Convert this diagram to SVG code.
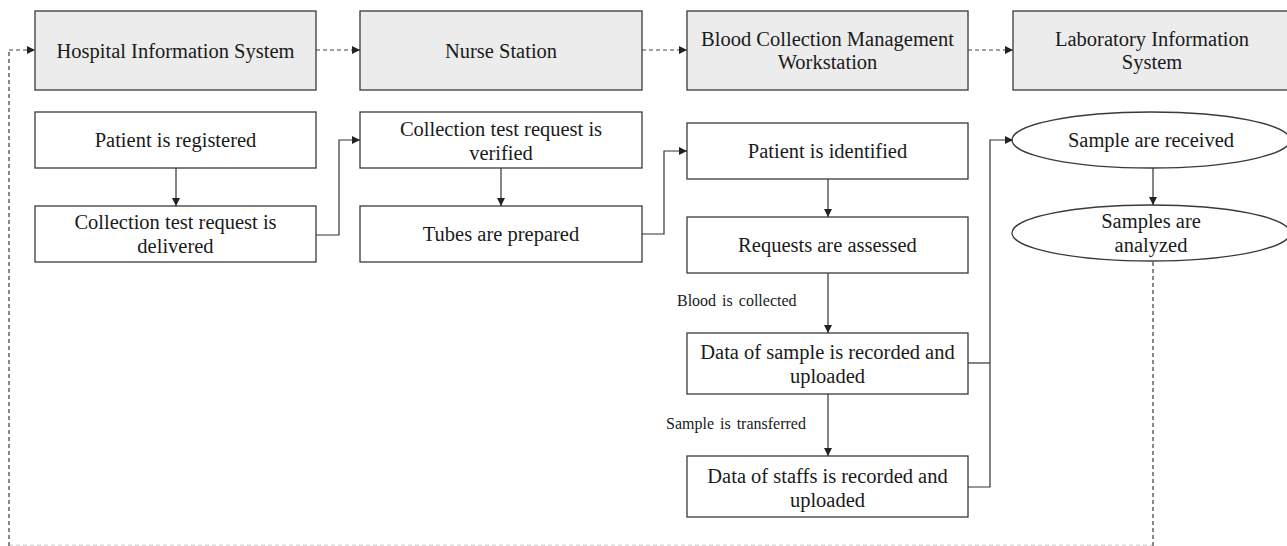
<svg xmlns="http://www.w3.org/2000/svg" width="1287" height="546" viewBox="0 0 1287 546">
<style>
.hdr{fill:#ececec;stroke:#3a3a3a;stroke-width:1.3}
.box{fill:#fff;stroke:#3a3a3a;stroke-width:1.3}
text{font-family:"Liberation Serif","Times New Roman",serif;fill:#1a1a1a;text-anchor:middle}
.t{font-size:20.5px}
.s{font-size:16px;text-anchor:start;word-spacing:2px}
.ln{fill:none;stroke:#333;stroke-width:1.2}
.dl{fill:none;stroke:#444;stroke-width:1.2;stroke-dasharray:4 3}
.fd{fill:none;stroke:#888;stroke-width:2;stroke-dasharray:4 3}
</style>
<defs>
<marker id="ah" markerWidth="8" markerHeight="8" refX="8" refY="4" orient="auto" markerUnits="userSpaceOnUse">
<path d="M0,0 L8,4 L0,8 Z" fill="#222"/>
</marker>
</defs>
<rect width="1287" height="546" fill="#fff"/>
<g id="his"><rect class="hdr" x="35" y="11" width="281" height="79"/><text class="t" x="175.5" y="58">Hospital Information System</text></g>
<g id="ns"><rect class="hdr" x="360" y="11" width="282" height="79"/><text class="t" x="501" y="58">Nurse Station</text></g>
<g id="bcmw"><rect class="hdr" x="687" y="11" width="281" height="79"/><text class="t" x="827.5" y="46">Blood Collection Management</text><text class="t" x="827.5" y="69">Workstation</text></g>
<g id="lis"><rect class="hdr" x="1013" y="11" width="290" height="79"/><text class="t" x="1152" y="46">Laboratory Information</text><text class="t" x="1152" y="69">System</text></g>
<g id="p-reg"><rect class="box" x="35" y="112" width="281" height="56"/><text class="t" x="175.5" y="147">Patient is registered</text></g>
<g id="req-del"><rect class="box" x="35" y="206" width="281" height="56"/><text class="t" x="175.5" y="229">Collection test request is</text><text class="t" x="175.5" y="253">delivered</text></g>
<g id="req-ver"><rect class="box" x="360" y="112" width="282" height="56"/><text class="t" x="501" y="136">Collection test request is</text><text class="t" x="501" y="160">verified</text></g>
<g id="tubes"><rect class="box" x="360" y="206" width="282" height="56"/><text class="t" x="501" y="241">Tubes are prepared</text></g>
<g id="p-id"><rect class="box" x="687" y="123" width="281" height="56"/><text class="t" x="827.5" y="158">Patient is identified</text></g>
<g id="req-ass"><rect class="box" x="687" y="217" width="281" height="56"/><text class="t" x="827.5" y="252">Requests are assessed</text></g>
<g id="data-sample"><rect class="box" x="687" y="333" width="281" height="61"/><text class="t" x="827.5" y="359">Data of sample is recorded and</text><text class="t" x="827.5" y="383">uploaded</text></g>
<g id="data-staff"><rect class="box" x="687" y="456" width="281" height="61"/><text class="t" x="827.5" y="483">Data of staffs is recorded and</text><text class="t" x="827.5" y="507">uploaded</text></g>
<g id="s-rec"><ellipse class="box" cx="1151" cy="140" rx="139" ry="28"/><text class="t" x="1151" y="147">Sample are received</text></g>
<g id="s-ana"><ellipse class="box" cx="1151" cy="233" rx="139" ry="28"/><text class="t" x="1151" y="228">Samples are</text><text class="t" x="1151" y="252">analyzed</text></g>
<g id="connectors">
<path class="fd" d="M9,546 V50"/>
<path class="dl" d="M9,50 H35" marker-end="url(#ah)"/>
<path class="dl" d="M316,50 H360" marker-end="url(#ah)"/>
<path class="dl" d="M642,50 H687" marker-end="url(#ah)"/>
<path class="dl" d="M968,50 H1013" marker-end="url(#ah)"/>
<path class="fd" d="M1153,262 V546"/>
<path class="fd" d="M9,545.5 H1153" stroke-opacity="0.3"/>
<path class="ln" d="M176,168 V206" marker-end="url(#ah)"/>
<path class="ln" d="M316,235 H339 V140 H360" marker-end="url(#ah)"/>
<path class="ln" d="M501,168 V206" marker-end="url(#ah)"/>
<path class="ln" d="M642,234 H664 V151 H687" marker-end="url(#ah)"/>
<path class="ln" d="M828,179 V217" marker-end="url(#ah)"/>
<path class="ln" d="M828,273 V333" marker-end="url(#ah)"/>
<path class="ln" d="M828,394 V456" marker-end="url(#ah)"/>
<path class="ln" d="M968,363 H990"/>
<path class="ln" d="M968,487 H990 V140 H1013" marker-end="url(#ah)"/>
<path class="ln" d="M1153,168 V205" marker-end="url(#ah)"/>
<text class="s" x="677" y="306">Blood is collected</text>
<text class="s" x="666" y="429">Sample is transferred</text>
</g>
</svg>
